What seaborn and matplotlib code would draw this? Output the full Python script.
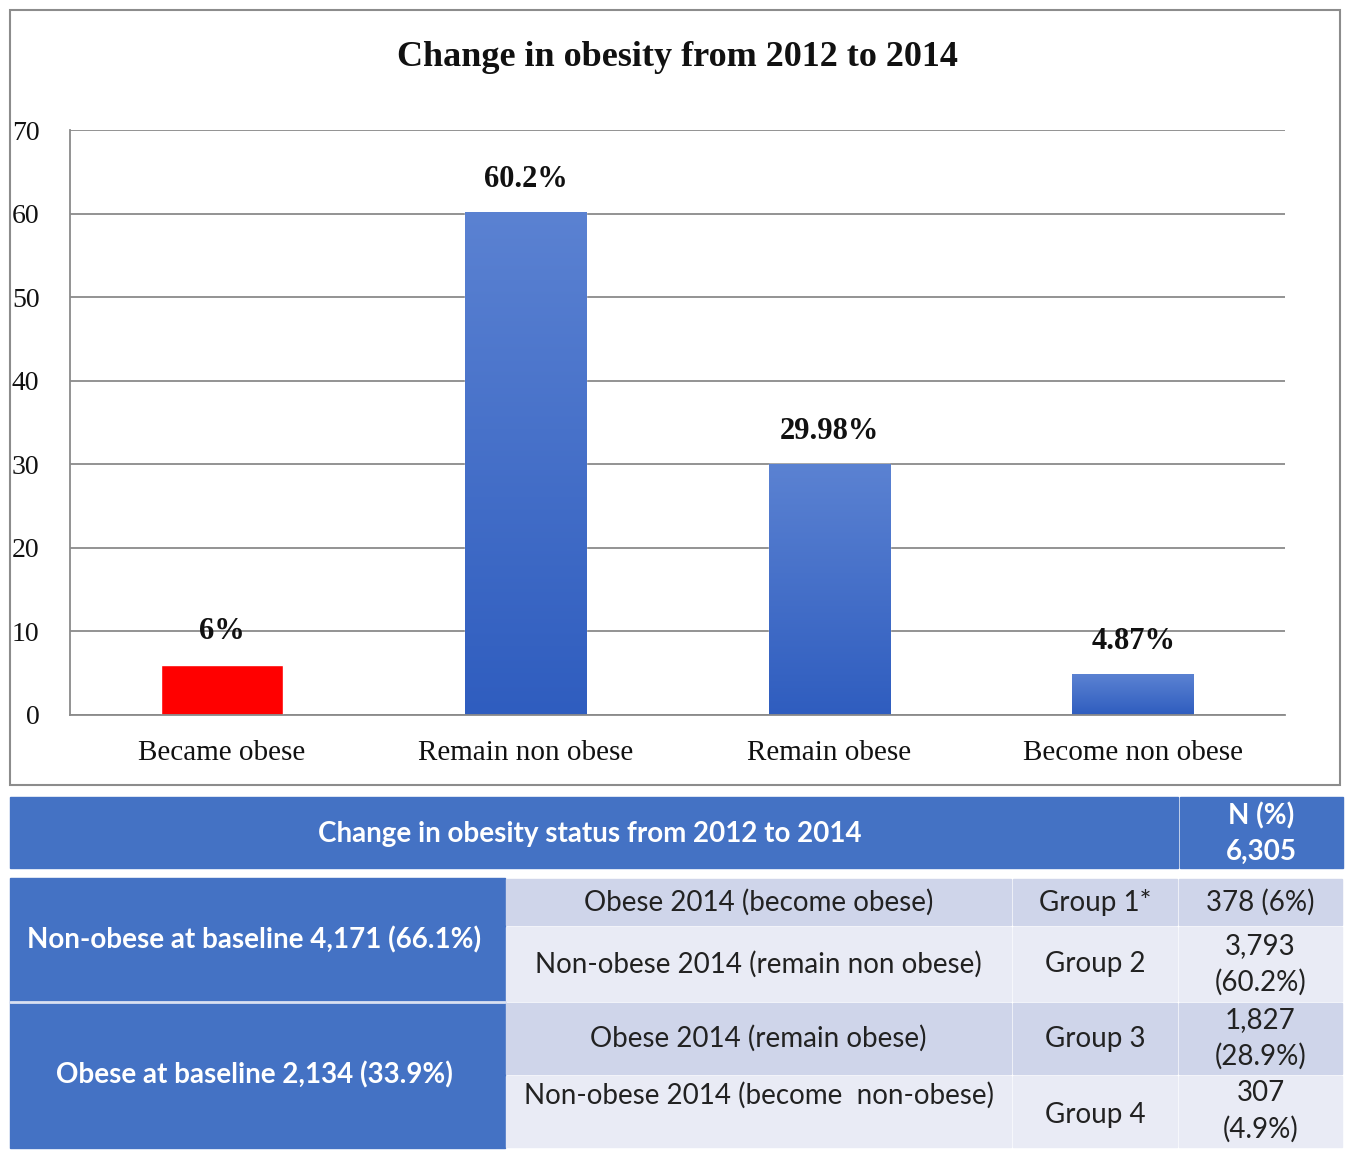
import matplotlib
matplotlib.use("Agg")
import matplotlib.pyplot as plt
from matplotlib.patches import Rectangle
import numpy as np
import pandas as pd
import seaborn as sns

# chart data
categories = ["Became obese", "Remain non obese", "Remain obese", "Become non obese"]
percent = [6.0, 60.2, 29.98, 4.87]
bar_labels = ["6%", "60.2%", "29.98%", "4.87%"]
bar_colors = ["#ff0000", "#3f6cc8", "#3f6cc8", "#3f6cc8"]

# table data
table_title = "Change in obesity status from 2012 to 2014"
n_header = "N (%)\n6,305"
baseline_groups = ["Non-obese at baseline 4,171 (66.1%)", "Obese at baseline 2,134 (33.9%)"]
status_2014 = ["Obese 2014 (become obese)", "Non-obese 2014 (remain non obese)",
               "Obese 2014 (remain obese)", "Non-obese 2014 (become  non-obese)"]
group_names = ["Group 1*", "Group 2", "Group 3", "Group 4"]
group_n = ["378 (6%)", "3,793\n(60.2%)", "1,827\n(28.9%)", "307\n(4.9%)"]

W, H = 1358, 1167
fig = plt.figure(figsize=(W / 100, H / 100), dpi=100)
sns.set_style("white")
serif = ["Liberation Serif", "DejaVu Serif"]
sans = ["Lato", "Open Sans", "DejaVu Sans"]

# background layer in pixel coordinates for frame + table
bg = fig.add_axes([0, 0, 1, 1])
bg.set_xlim(0, W)
bg.set_ylim(H, 0)
bg.axis("off")
bg.add_patch(Rectangle((10, 10), 1330, 775, fill=False, ec="#8c8c8c", lw=1.5))
bg.text(677, 57, "Change in obesity from 2012 to 2014", ha="center", va="center",
        fontsize=26, fontweight="bold", family=serif, color="#111111")

# bar chart
ax = fig.add_axes([70 / W, 1 - 715 / H, (1285 - 70) / W, (715 - 130) / H])
df = pd.DataFrame({"category": categories, "percent": percent})
sns.barplot(data=df, x="category", y="percent", hue="category", palette=bar_colors,
            width=0.4, saturation=1, legend=False, ax=ax)
ax.set_ylim(0, 70)
ax.set_xlim(-0.5, 3.5)
ax.set_yticks(range(0, 71, 10))
ax.yaxis.grid(True, color="#8a8a8a", lw=1.3)
ax.set_axisbelow(True)
for s in ["top", "right"]:
    ax.spines[s].set_visible(False)
for s in ["left", "bottom"]:
    ax.spines[s].set_color("#8a8a8a")
    ax.spines[s].set_linewidth(1.3)
ax.set_xlabel("")
ax.set_ylabel("")
ax.tick_params(axis="y", length=6, color="#8a8a8a", width=1.3, pad=16, labelsize=20)
ax.tick_params(axis="x", which="major", length=0, pad=18, labelsize=21)
ax.set_xticks(np.arange(-0.5, 4, 1), minor=True)
ax.tick_params(axis="x", which="minor", length=7, color="#8a8a8a", width=1.3)
for lab in ax.get_xticklabels() + ax.get_yticklabels():
    lab.set_family(serif)
    lab.set_color("#111111")

# gradient on blue bars
grad = np.linspace(0, 1, 256).reshape(-1, 1)
cmap = matplotlib.colors.LinearSegmentedColormap.from_list("g", ["#2f5dbf", "#5b82d2"])
for i, p in enumerate(ax.patches):
    if i == 0:
        continue
    x0, y0, w, h = p.get_x(), p.get_y(), p.get_width(), p.get_height()
    im = ax.imshow(grad, cmap=cmap, aspect="auto", origin="lower",
                   extent=[x0, x0 + w, y0, y0 + h], zorder=p.get_zorder() + 0.1)
    im.set_clip_path(p)
for i, p in enumerate(ax.patches):
    ax.text(p.get_x() + p.get_width() / 2, p.get_height() + 2.2, bar_labels[i],
            ha="center", va="bottom", fontsize=22, fontweight="bold", family=serif,
            color="#111111")
ax.set_xlim(-0.5, 3.5)
ax.set_ylim(0, 70)

# table
blue = "#4472c4"
light1 = "#cfd5ea"
light2 = "#e9ebf5"
bg.add_patch(Rectangle((10, 797), 1168, 71, color=blue))
bg.add_patch(Rectangle((1180, 797), 163, 71, color=blue))
bg.text(590, 834, table_title, ha="center", va="center", color="white",
        fontsize=20, fontweight="bold", family=sans)
bg.text(1261, 834, n_header, ha="center", va="center", color="white",
        fontsize=20, fontweight="bold", family=sans, linespacing=1.45)

row_top = [878, 926, 1002, 1075]
row_bot = [926, 1002, 1075, 1148]
for g in range(2):
    top = row_top[2 * g]
    bot = row_bot[2 * g + 1]
    bg.add_patch(Rectangle((10, top), 495, bot - top, color=blue))
    bg.text(254, (top + bot) / 2, baseline_groups[g], ha="center", va="center",
            color="white", fontsize=20, fontweight="bold", family=sans)
cols = [(505, 1012), (1012, 1178), (1178, 1343)]
for r in range(4):
    top, bot = row_top[r], row_bot[r]
    fc = light1 if r % 2 == 0 else light2
    for c0, c1 in cols:
        bg.add_patch(Rectangle((c0 + 1, top + 1), c1 - c0 - 2, bot - top - 2, color=fc))
    texts = [status_2014[r], group_names[r], group_n[r]]
    for (c0, c1), t in zip(cols, texts):
        yy = (top + bot) / 2
        if r == 3 and c0 == 505:
            yy = top + 20
        if r == 3 and c0 == 1012:
            yy += 3
        bg.text((c0 + c1) / 2, yy, t, ha="center", va="center", color="#222222",
                fontsize=20, family=sans, linespacing=1.45)
bg.plot([10, 505], [1002, 1002], color="#d9e0f2", lw=2)

fig.savefig("out.png", dpi=100)
